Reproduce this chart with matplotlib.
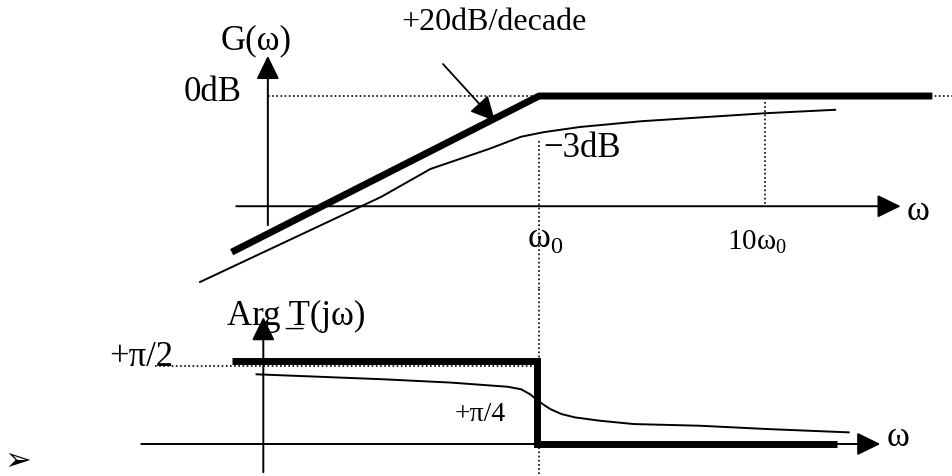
import matplotlib
matplotlib.use("Agg")
import matplotlib.pyplot as plt

plt.rcParams['font.family'] = ['Liberation Serif', 'DejaVu Sans']
plt.rcParams['mathtext.fontset'] = 'custom'
plt.rcParams['mathtext.rm'] = 'Liberation Serif'

# x is log10(w/w0) in decades, gain in dB, phase in units of pi
# asymptotic gain (+20dB/decade then flat)
dec_asym = [-1.36, 0.0, 1.74]
gain_asym = [-27.2, 0.0, 0.0]

# real gain curve
dec_gain = [-1.50, -0.70, -0.48, -0.22, -0.08, 0.02, 0.18, 0.45, 1.00, 1.31]
gain = [-32.4, -17.6, -12.7, -9.2, -7.1, -6.3, -5.4, -4.4, -3.0, -2.4]

# asymptotic phase (step +pi/2 -> 0)
dec_phase_asym = [-1.36, -0.01, -0.01, 1.32]
phase_asym = [0.5, 0.5, 0.0, 0.0]

# real phase curve
dec_phase = [-1.25, -0.69, -0.39, -0.14, -0.08, -0.04, 0.0, 0.05, 0.10, 0.16, 0.27, 0.42, 0.71, 1.01, 1.37]
phase = [0.42, 0.39, 0.37, 0.345, 0.33, 0.30, 0.255, 0.21, 0.18, 0.16, 0.14, 0.12, 0.11, 0.09, 0.07]

# reference levels
gain_axis = -19.2      # where the w axis crosses the gain plot
dec_w0 = 0.0
dec_10w0 = 1.0
phase_half_pi = 0.47

fig = plt.figure(figsize=(9.52, 4.77), dpi=100)
ax_g = fig.add_axes([0, 0.392, 1, 0.608])
ax_p = fig.add_axes([0, 0, 1, 0.392])
for ax in (ax_g, ax_p):
    ax.set_xlim(-2.385, 1.827)
    ax.axis('off')
ax_g.set_ylim(-33.62, 16.90)
ax_p.set_ylim(-0.193, 0.934)

k = 'black'
dots = (0, (1, 1.5))
arrow = dict(arrowstyle='-|>,head_length=0.45,head_width=0.22', mutation_scale=32,
             lw=1.4, color=k, shrinkA=0, shrinkB=0)

def axis_arrow(ax, start, tip):
    ax.annotate('', xy=tip, xytext=start, arrowprops=arrow)

# ---- gain plot ----
axis_arrow(ax_g, (-1.20, -22.5), (-1.20, 7.0))
axis_arrow(ax_g, (-1.34, gain_axis), (1.60, gain_axis))

ax_g.plot([-1.20, 1.83], [0, 0], color=k, lw=1.2, ls=dots, zorder=1)
ax_g.plot([dec_w0, dec_w0], [-7.8, -33.62], color=k, lw=1.2, ls=dots, zorder=1)
ax_g.plot([dec_10w0, dec_10w0], [-1.0, gain_axis], color=k, lw=1.2, ls=dots, zorder=1)

ax_g.plot(dec_asym, gain_asym, color=k, lw=5, solid_capstyle='butt', zorder=3)
ax_g.plot(dec_gain, gain, color=k, lw=1.4, zorder=3)

ax_g.annotate('', xy=(-0.195, -4.36), xytext=(-0.425, 5.57),
              arrowprops=dict(arrowstyle='-|>,head_length=0.5,head_width=0.25',
                              mutation_scale=30, lw=1.3, color=k, shrinkA=0, shrinkB=0))

fs = 25
ax_g.text(-1.252, 9.76, 'G(ω)', fontsize=fs, ha='center', va='center')
ax_g.text(-0.199, 12.9, '+20dB/decade', fontsize=23, ha='center', va='center')
ax_g.text(-1.314, 0.7, '0dB', fontsize=fs, ha='right', va='center')
ax_g.text(0.018, -8.9, '\u22123dB', fontsize=fs, ha='left', va='center')
ax_g.text(1.677, -20.0, 'ω', fontsize=fs, ha='center', va='center')
ax_g.text(0.027, -24.6, r'$\mathrm{ω}_0$', fontsize=fs, ha='center', va='center')
ax_g.text(0.965, -25.3, r'10$\mathrm{ω}_0$', fontsize=21, ha='center', va='center')

# ---- phase plot ----
axis_arrow(ax_p, (-1.22, -0.17), (-1.22, 0.765))
axis_arrow(ax_p, (-1.76, 0.0), (1.51, 0.0))

ax_p.plot([-1.70, dec_w0], [phase_half_pi, phase_half_pi], color=k, lw=1.2, ls=dots, zorder=1)
ax_p.plot([dec_w0, dec_w0], [0.934, -0.193], color=k, lw=1.2, ls=dots, zorder=1)

ax_p.plot(dec_phase_asym, phase_asym, color=k, lw=5, solid_joinstyle='miter',
          solid_capstyle='butt', zorder=3)
ax_p.plot(dec_phase, phase, color=k, lw=1.4, zorder=3)

# mathtext has no \underline, so the underline under T is its own "_" text
ax_p.text(-1.075, 0.723, 'Arg T(jω)', fontsize=fs, ha='center', va='baseline')
ax_p.text(-1.085, 0.723, '_', fontsize=fs, ha='center', va='baseline')

ax_p.text(-1.761, 0.53, '+π/2', fontsize=fs, ha='center', va='center')
ax_p.text(-0.261, 0.181, '+π/4', fontsize=20, ha='center', va='center')
ax_p.text(1.588, 0.048, 'ω', fontsize=fs, ha='center', va='center')
ax_p.text(-2.305, -0.19, '\u27a2', fontsize=23, ha='center', va='bottom',
          family=['DejaVu Sans'])

fig.savefig('out.png', dpi=100)
